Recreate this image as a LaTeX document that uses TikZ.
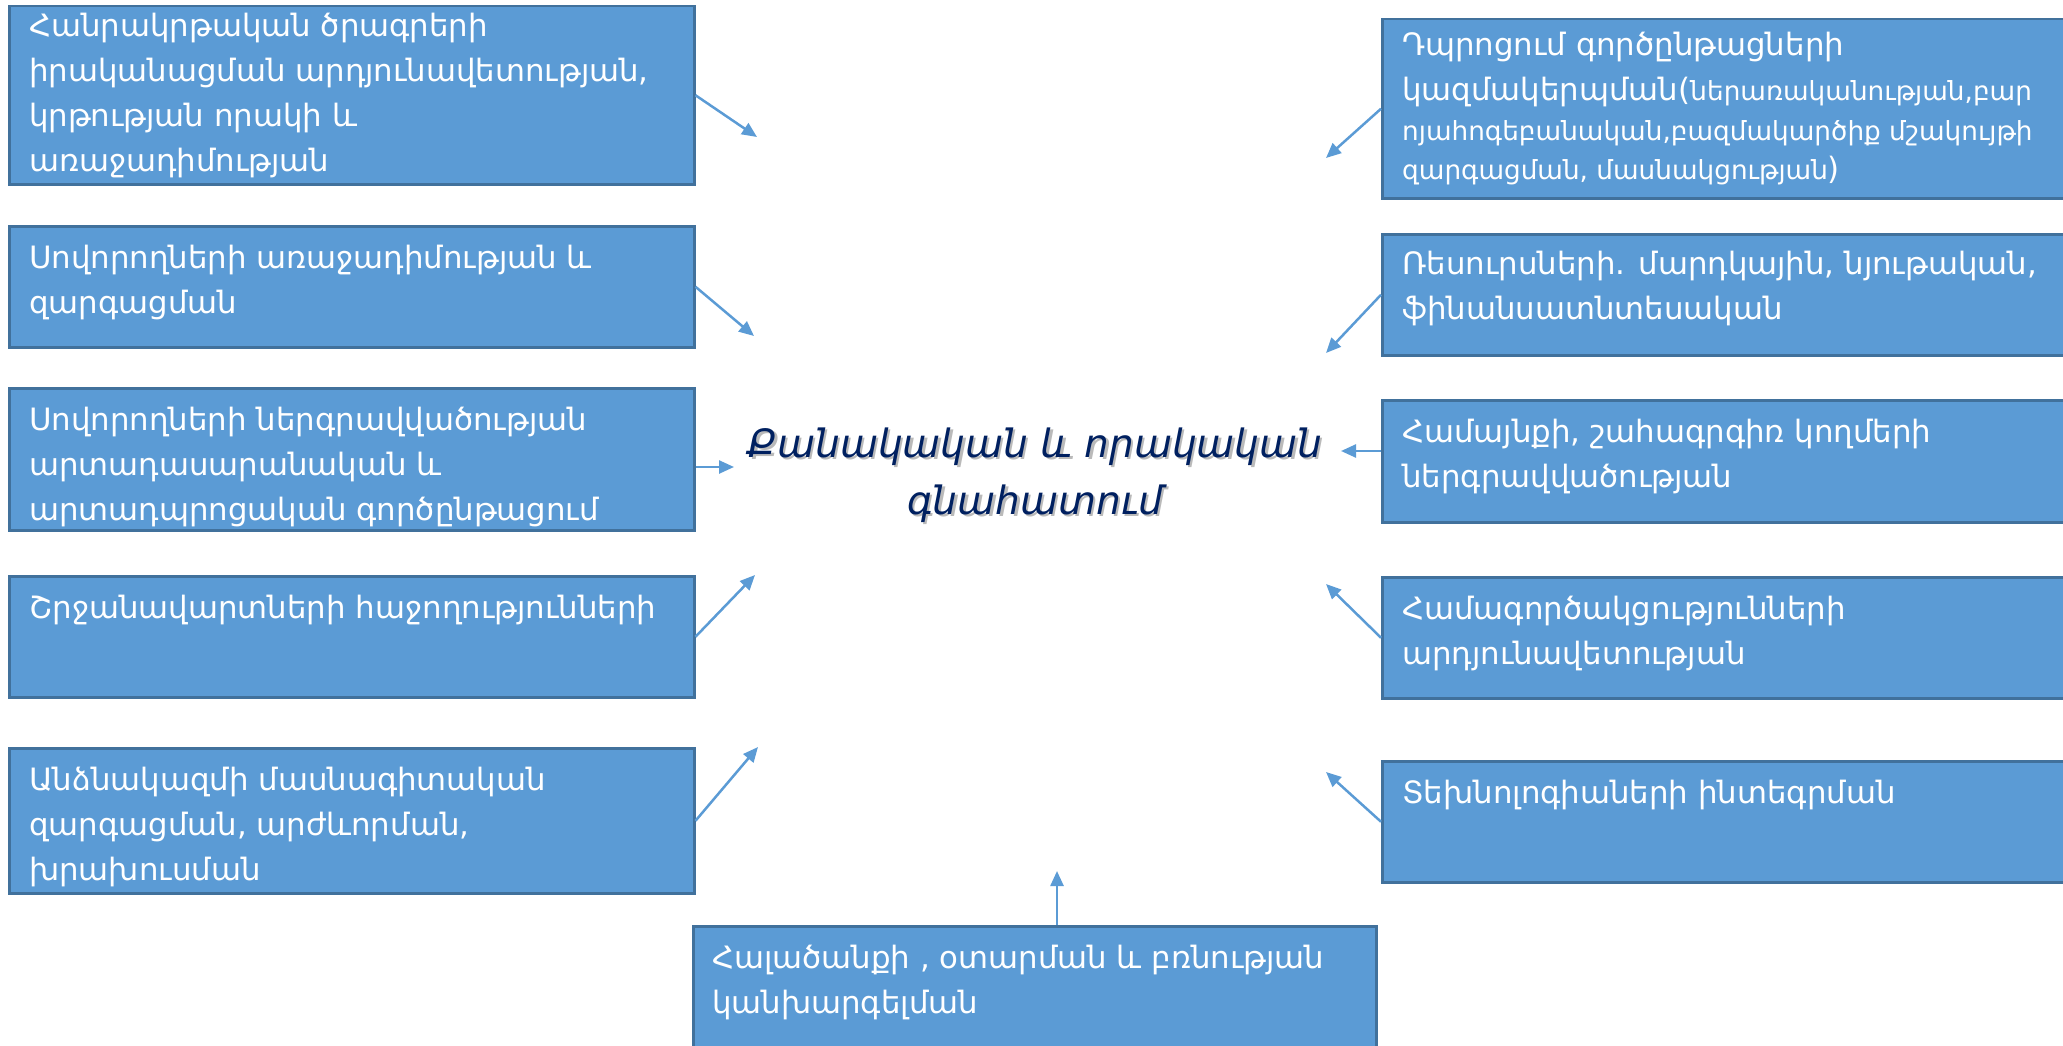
\documentclass[tikz,border=0pt]{standalone}
\usepackage{fontspec}
\setmainfont{DejaVu Sans}
\usetikzlibrary{arrows.meta,calc}
\definecolor{boxblue}{HTML}{5B9BD5}
\definecolor{boxedge}{HTML}{41719C}
\definecolor{navy}{HTML}{002060}
\newcommand\lns[1]{\begin{tabular}[t]{@{}l@{}}#1\end{tabular}}
\newcommand\sm{\fontsize{26.3}{40}\selectfont}
\begin{document}
\begin{tikzpicture}[x=1pt,y=-1pt,
  box/.style={draw=boxedge, fill=boxblue, line width=2.5pt, anchor=north west, inner sep=0pt},
  txt/.style={anchor=base west, inner sep=0pt, text=white, font=\fontsize{30.8}{45}\selectfont},
  ctr/.style={align=center, inner sep=0pt, font=\fontsize{39}{57}\selectfont\itshape},
  arr/.style={draw=boxblue, line width=2.5pt, -{Triangle[length=15pt,width=13pt]}}]
\useasboundingbox (0,0) rectangle (2063,1046);
\clip (0,0) rectangle (2063,1046);
% left boxes
\node[box, minimum width=685pt, minimum height=178pt] (L1) at (8,5) {};
\node[box, minimum width=685pt, minimum height=121pt] (L2) at (8,225) {};
\node[box, minimum width=685pt, minimum height=142pt] (L3) at (8,387) {};
\node[box, minimum width=685pt, minimum height=121pt] (L4) at (8,575) {};
\node[box, minimum width=685pt, minimum height=145pt] (L5) at (8,747) {};
% right boxes
\node[box, minimum width=720pt, minimum height=179pt] (R1) at (1381,18) {};
\node[box, minimum width=720pt, minimum height=121pt] (R2) at (1381,233) {};
\node[box, minimum width=720pt, minimum height=122pt] (R3) at (1381,399) {};
\node[box, minimum width=720pt, minimum height=121pt] (R4) at (1381,576) {};
\node[box, minimum width=720pt, minimum height=121pt] (R5) at (1381,760) {};
% bottom box
\node[box, minimum width=683pt, minimum height=140pt] (B) at (692,925) {};
% texts
\node[txt] (L1t) at ($(L1.north west)+(21,32)$) {\lns{Հանրակրթական ծրագրերի\\ իրականացման արդյունավետության,\\ կրթության որակի և\\ առաջադիմության}};
\node[txt] (L2t) at ($(L2.north west)+(21,43)$) {\lns{Սովորողների առաջադիմության և\\ զարգացման}};
\node[txt] (L3t) at ($(L3.north west)+(21,43)$) {\lns{Սովորողների ներգրավվածության\\ արտադասարանական և\\ արտադպրոցական գործընթացում}};
\node[txt] (L4t) at ($(L4.north west)+(21,43)$) {\lns{Շրջանավարտների հաջողությունների}};
\node[txt] (L5t) at ($(L5.north west)+(21,43)$) {\lns{Անձնակազմի մասնագիտական\\ զարգացման, արժևորման,\\ խրախուսման}};
\node[txt] (R1t) at ($(R1.north west)+(21,38)$) {\lns{Դպրոցում գործընթացների\\ կազմակերպման({\sm ներառականության,բար}\\[-5pt] {\sm ոյահոգեբանական,բազմակարծիք մշակույթի}\\[-6pt] {\sm զարգացման, մասնակցության})}};
\node[txt] (R2t) at ($(R2.north west)+(21,41)$) {\lns{Ռեսուրսների. մարդկային, նյութական,\\ ֆինանսատնտեսական}};
\node[txt] (R3t) at ($(R3.north west)+(21,43)$) {\lns{Համայնքի, շահագրգիռ կողմերի\\ ներգրավվածության}};
\node[txt] (R4t) at ($(R4.north west)+(21,43)$) {\lns{Համագործակցությունների\\ արդյունավետության}};
\node[txt] (R5t) at ($(R5.north west)+(21,43)$) {\lns{Տեխնոլոգիաների ինտեգրման}};
\node[txt] (Bt) at ($(B.north west)+(20,43)$) {\lns{Հալածանքի , օտարման և բռնության\\ կանխարգելման}};
% centre
\node[ctr, text=black!60, opacity=0.45] (Cs) at (1037.5,477.5) {Քանակական և որակական\\ գնահատում};
\node[ctr, text=navy] (C) at (1035,475) {Քանակական և որակական\\ գնահատում};
% arrow tips
\coordinate (tL1) at (757,137);
\coordinate (tL2) at (754,336);
\coordinate (tL3) at (734,467);
\coordinate (tL4) at (755,575);
\coordinate (tL5) at (758,747);
\coordinate (tR1) at (1326,158);
\coordinate (tR2) at (1326,353);
\coordinate (tR3) at (1341,451);
\coordinate (tR4) at (1326,584);
\coordinate (tR5) at (1326,772);
\coordinate (tB) at (1057,871);
\draw[arr] (L1.east) -- (tL1);
\draw[arr] (L2.east) -- (tL2);
\draw[arr] (L3.east |- tL3) -- (tL3);
\draw[arr] (L4.east) -- (tL4);
\draw[arr] (L5.east) -- (tL5);
\draw[arr] (R1.west) -- (tR1);
\draw[arr] (R2.west) -- (tR2);
\draw[arr] (R3.west |- tR3) -- (tR3);
\draw[arr] (R4.west) -- (tR4);
\draw[arr] (R5.west) -- (tR5);
\draw[arr] (B.north -| tB) -- (tB);
\end{tikzpicture}
\end{document}
